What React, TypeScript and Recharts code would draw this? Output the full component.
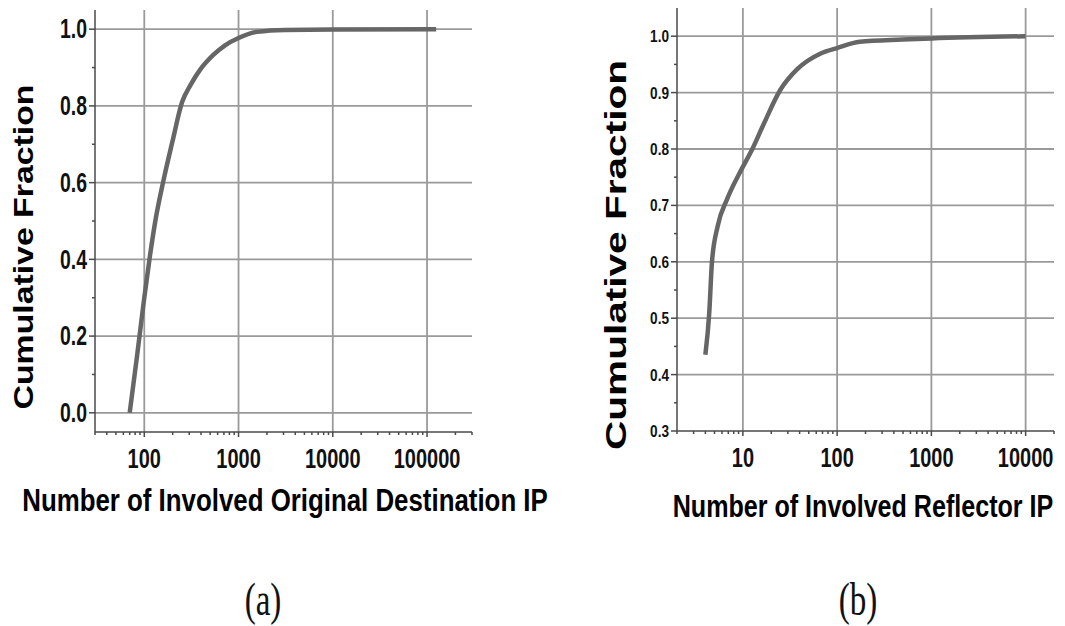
import React from "react";
import { LineChart, Line, XAxis, YAxis, ReferenceLine } from "recharts";

// (a) original destination IPs
const destCount = [70, 84, 100, 115, 131, 158, 198, 252, 310, 390, 540, 720, 1000, 1580, 3100, 10000, 125000];
const destFrac = [0, 0.15, 0.3, 0.41, 0.5, 0.6, 0.705, 0.81, 0.855, 0.894, 0.933, 0.958, 0.977, 0.993, 0.998, 0.999, 1.0];
const destXTicks = [100, 1000, 10000, 100000];
const destYTicks = [0, 0.2, 0.4, 0.6, 0.8, 1.0];
const destYMinor = [0.1, 0.3, 0.5, 0.7, 0.9];

// (b) reflector IPs
const reflCount = [4, 4.4, 4.7, 5.4, 6.8, 9.4, 12.6, 16.5, 25, 38, 66, 100, 174, 490, 1000, 10000];
const reflFrac = [0.435, 0.51, 0.6, 0.663, 0.711, 0.76, 0.8, 0.843, 0.905, 0.942, 0.969, 0.979, 0.99, 0.994, 0.996, 1.0];
const reflXTicks = [10, 100, 1000, 10000];
const reflYTicks = [0.3, 0.4, 0.5, 0.6, 0.7, 0.8, 0.9, 1.0];
const reflYMinor = [0.35, 0.45, 0.55, 0.65, 0.75, 0.85, 0.95];

const AXIS = "#4a4a4a";
const GRID = "#9a9a9a";
const CURVE = "#666666";
const SANS = "'Liberation Sans', Arial, sans-serif";

const logMinors = (lo: number, hi: number) => {
  const out: number[] = [];
  for (let d = Math.pow(10, Math.floor(Math.log10(lo))); d <= hi; d *= 10) {
    for (let m = 2; m <= 9; m++) {
      const v = m * d;
      if (v >= lo && v <= hi) out.push(v);
    }
  }
  return out;
};

const isIn = (v: number, arr: number[]) => arr.some((a) => Math.abs(a - v) < 1e-9);

const XTick = (props: any) => {
  const { x, y, payload, majors, fontSize, sx, offset } = props;
  const major = isIn(payload.value, majors);
  return (
    <g>
      <line x1={x} x2={x} y1={y} y2={y + (major ? 5 : 3)} stroke={AXIS} strokeWidth={1.5} />
      {major && (
        <text
          transform={`translate(${x},${y + offset}) scale(${sx},1)`}
          textAnchor="middle"
          dominantBaseline="central"
          fontFamily={SANS}
          fontWeight="bold"
          fontSize={fontSize}
          fill="#111"
        >
          {payload.value}
        </text>
      )}
    </g>
  );
};

const YTick = (props: any) => {
  const { x, y, payload, majors, fontSize, sx } = props;
  const major = isIn(payload.value, majors);
  const len = major ? 6 : 3;
  return (
    <g>
      <line x1={x} x2={x - len} y1={y} y2={y} stroke={AXIS} strokeWidth={1.5} />
      {major && (
        <text
          transform={`translate(${x - 8},${y}) scale(${sx},1)`}
          textAnchor="end"
          dominantBaseline="central"
          fontFamily={SANS}
          fontWeight="bold"
          fontSize={fontSize}
          fill="#111"
        >
          {payload.value.toFixed(1)}
        </text>
      )}
    </g>
  );
};

const destData = destCount.map((c, i) => ({ x: c, y: destFrac[i] }));
const reflData = reflCount.map((c, i) => ({ x: c, y: reflFrac[i] }));

const App = () => {
  const destXDomain = [30, 300000];
  const reflXDomain = [2, 20000];
  return (
    <div style={{ position: "absolute", left: 0, top: 0, width: 1065, height: 626, background: "#fff" }}>
      <div style={{ position: "absolute", left: 0, top: 0 }}>
        <LineChart width={480} height={500} data={destData} margin={{ top: 10, right: 8, bottom: 0, left: 0 }}>
          <XAxis
            dataKey="x"
            type="number"
            scale="log"
            domain={destXDomain}
            allowDataOverflow
            ticks={[...destXTicks, ...logMinors(30, 300000)]}
            interval={0}
            height={68}
            tickSize={0}
            tickMargin={0}
            tickLine={false}
            axisLine={{ stroke: AXIS, strokeWidth: 1.5 }}
            tick={<XTick majors={destXTicks} fontSize={27} sx={0.74} offset={26} />}
          />
          <YAxis
            type="number"
            domain={[-0.05, 1.05]}
            allowDataOverflow
            ticks={[...destYTicks, ...destYMinor]}
            interval={0}
            width={95}
            tickSize={0}
            tickMargin={0}
            tickLine={false}
            axisLine={{ stroke: AXIS, strokeWidth: 1.5 }}
            tick={<YTick majors={destYTicks} fontSize={27} sx={0.72} />}
          />
          {destXTicks.map((v) => (
            <ReferenceLine key={"dx" + v} x={v} stroke={GRID} strokeWidth={1.8} />
          ))}
          {destYTicks.map((v) => (
            <ReferenceLine key={"dy" + v} y={v} stroke={GRID} strokeWidth={1.8} />
          ))}
          <Line dataKey="y" type="monotone" stroke={CURVE} strokeWidth={4.5} dot={false} isAnimationActive={false} />
        </LineChart>
      </div>

      <div style={{ position: "absolute", left: 570, top: 0 }}>
        <LineChart width={495} height={500} data={reflData} margin={{ top: 8, right: 11, bottom: 0, left: 0 }}>
          <XAxis
            dataKey="x"
            type="number"
            scale="log"
            domain={reflXDomain}
            allowDataOverflow
            ticks={[...reflXTicks, ...logMinors(2, 20000)]}
            interval={0}
            height={69}
            tickSize={0}
            tickMargin={0}
            tickLine={false}
            axisLine={{ stroke: AXIS, strokeWidth: 1.5 }}
            tick={<XTick majors={reflXTicks} fontSize={27} sx={0.74} offset={26} />}
          />
          <YAxis
            type="number"
            domain={[0.3, 1.05]}
            allowDataOverflow
            ticks={[...reflYTicks, ...reflYMinor]}
            interval={0}
            width={107}
            tickSize={0}
            tickMargin={0}
            tickLine={false}
            axisLine={{ stroke: AXIS, strokeWidth: 1.5 }}
            tick={<YTick majors={reflYTicks} fontSize={17} sx={0.8} />}
          />
          {reflXTicks.map((v) => (
            <ReferenceLine key={"rx" + v} x={v} stroke={GRID} strokeWidth={1.8} />
          ))}
          {reflYTicks.slice(1).map((v) => (
            <ReferenceLine key={"ry" + v} y={v} stroke={GRID} strokeWidth={1.8} />
          ))}
          <Line dataKey="y" type="monotone" stroke={CURVE} strokeWidth={4.5} dot={false} isAnimationActive={false} />
        </LineChart>
      </div>

      <svg width={1065} height={626} style={{ position: "absolute", left: 0, top: 0, pointerEvents: "none" }}>
        <g fontFamily={SANS} fontWeight="bold" fill="#000">
          <text transform="translate(23,247) rotate(-90)" textAnchor="middle" dominantBaseline="central" fontSize={28} textLength={325} lengthAdjust="spacingAndGlyphs">
            Cumulative Fraction
          </text>
          <text transform="translate(615,255) rotate(-90)" textAnchor="middle" dominantBaseline="central" fontSize={30} textLength={390} lengthAdjust="spacingAndGlyphs">
            Cumulative Fraction
          </text>
          <text transform="translate(285,500) scale(0.834,1)" textAnchor="middle" dominantBaseline="central" fontSize={31}>
            Number of Involved Original Destination IP
          </text>
          <text transform="translate(863,506) scale(0.81,1)" textAnchor="middle" dominantBaseline="central" fontSize={31}>
            Number of Involved Reflector IP
          </text>
        </g>
        <g fontFamily="'Liberation Serif', 'Times New Roman', serif" fill="#111" fontSize={46}>
          <text transform="translate(263,600) scale(0.72,1)" textAnchor="middle" dominantBaseline="central">(a)</text>
          <text transform="translate(858,600) scale(0.72,1)" textAnchor="middle" dominantBaseline="central">(b)</text>
        </g>
      </svg>
    </div>
  );
};

export default App;
